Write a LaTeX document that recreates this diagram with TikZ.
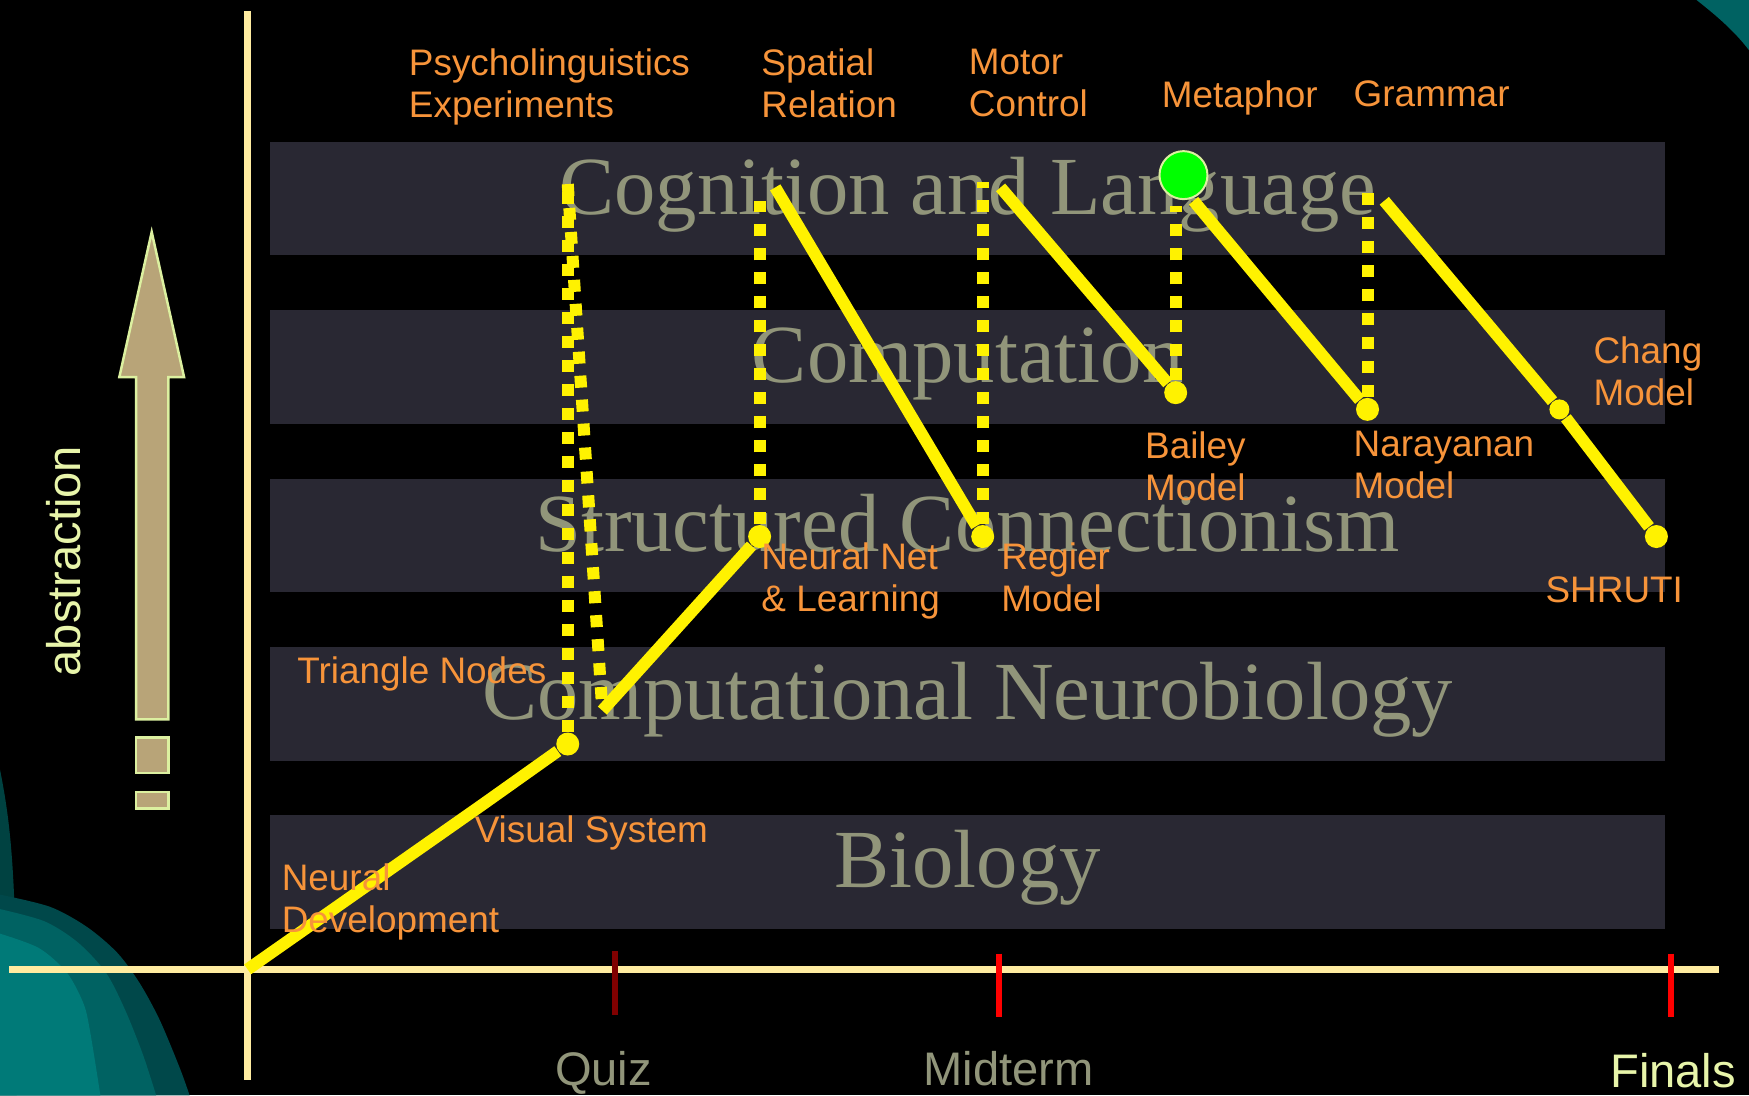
\documentclass[tikz,border=0pt]{standalone}
\usepackage{fontspec}
\setmainfont{Liberation Serif}
\newfontfamily\lblfont{Liberation Sans}
\definecolor{bandgray}{RGB}{41,40,51}
\definecolor{sage}{RGB}{145,149,122}
\definecolor{lblorange}{RGB}{247,148,58}
\definecolor{cream}{RGB}{255,236,160}
\definecolor{paleyel}{RGB}{232,245,170}
\definecolor{tan}{RGB}{184,164,120}
\definecolor{tanedge}{RGB}{220,240,160}
\definecolor{tealdark}{RGB}{0,72,74}
\definecolor{tealmid}{RGB}{0,98,98}
\definecolor{teallight}{RGB}{0,122,120}
\definecolor{darkred}{RGB}{128,0,0}

\begin{document}
\begin{tikzpicture}[x=0.11154mm, y=-0.11154mm,
  band/.style={fill=bandgray, minimum width=139.5mm, minimum height=11.38mm,
    inner sep=0, text=sage, font=\fontsize{23.5}{26}\selectfont,
    text height=14pt, text depth=5.1pt},
  lbl/.style={anchor=north west, inner sep=0, align=left, text=lblorange,
    font=\lblfont\fontsize{10.5}{12}\selectfont},
  axlbl/.style={anchor=base, inner sep=0, font=\lblfont\fontsize{13.4}{15}\selectfont},
  axis/.style={cream, line width=0.75mm},
  tick/.style={line width=0.6mm},
  dot/.style={circle, fill=yellow, inner sep=0, minimum size=2.3mm},
  link/.style={yellow, line width=1.2mm},
  hop/.style={yellow, line width=1.2mm, dash pattern=on 1.2mm off 1.2mm}]

  \fill[black] (0,0) rectangle (1568,982);
  \useasboundingbox (0,0) rectangle (1568,982);

  % teal corners
  \fill[teallight, opacity=0.55] (0,690) .. controls (12,750) and (15,800) .. (15,982) -- (0,982) -- cycle;
  \fill[tealdark] plot[smooth] coordinates {(0,802) (45,813) (78,831) (105,854)
    (125,881) (143,914) (161,957) (170,982)} -- (0,982) -- cycle;
  \fill[tealmid] plot[smooth] coordinates {(0,815) (40,826) (70,845) (95,872)
    (112,905) (128,945) (140,982)} -- (0,982) -- cycle;
  \fill[teallight] plot[smooth] coordinates {(0,837) (35,850) (60,872) (75,900)
    (81,926) (90,982)} -- (0,982) -- cycle;
  \fill[tealmid] (1521,0) .. controls (1540,15) and (1555,28) .. (1568,45) -- (1568,0) -- cycle;

  % levels
  \node[band] (cog) at (867.5,178) {Cognition and Language};
  \node[band] (comp) at (867.5,329) {Computation};
  \node[band] (sc) at (867.5,480) {Structured Connectionism};
  \node[band] (cn) at (867.5,631) {Computational Neurobiology};
  \node[band] (bio) at (867.5,782) {Biology};

  % axes
  \coordinate (o) at (222,869);
  \coordinate (xl) at (8,869);
  \coordinate (xr) at (1541,869);
  \coordinate (yt) at (222,10);
  \coordinate (yb) at (222,968);
  \draw[axis] (xl) -- (xr);
  \draw[axis] (yt) -- (yb);

  \draw[tick, darkred] (551,853) -- (551,910);
  \draw[tick, red] (896,855) -- (896,912);
  \draw[tick, red] (1498,855) -- (1498,912);
  \node[axlbl, text=sage] (quiz) at (541,973) {Quiz};
  \node[axlbl, text=sage] (mid) at (904,973) {Midterm};
  \node[axlbl, text=paleyel] (fin) at (1500,975) {Finals};

  % abstraction arrow
  \draw[fill=tan, draw=tanedge, line width=0.25mm] (136,208) -- (165,338) -- (151,338)
    -- (151,645) -- (122,645) -- (122,338) -- (107,338) -- cycle;
  \draw[fill=tan, draw=tanedge, line width=0.25mm] (122,661) rectangle (151,693);
  \draw[fill=tan, draw=tanedge, line width=0.25mm] (122,710) rectangle (151,725);
  \node[rotate=90, inner sep=0, text=paleyel, font=\lblfont\fontsize{13.4}{15}\selectfont]
    (abs) at (57,503) {abstraction};

  % path through the levels
  \coordinate (vis) at (433,721);
  \node[dot] (tri) at (509,667) {};
  \coordinate (psy) at (509,165);
  \coordinate (psyend) at (540,637);
  \node[dot] (nnet) at (681,481) {};
  \coordinate (spa) at (681,180);
  \coordinate (spa2) at (695,168);
  \node[dot] (reg) at (881,481) {};
  \coordinate (mot) at (881,163);
  \coordinate (mot2) at (897,168);
  \node[dot] (bai) at (1054,352) {};
  \coordinate (met) at (1054,185);
  \coordinate (met2) at (1070,180);
  \node[dot] (nar) at (1226,367) {};
  \coordinate (gram) at (1226,168);
  \coordinate (gram2) at (1241,180);
  \node[dot, minimum size=2mm] (chang) at (1398,367) {};
  \node[dot] (shruti) at (1485,481) {};

  \draw[link] (o) -- (vis) -- (tri);
  \draw[hop] (tri) -- (psy);
  \draw[hop] (psy) -- (psyend);
  \draw[link] (psyend) -- (nnet);
  \draw[hop] (nnet) -- (spa);
  \draw[link] (spa2) -- (reg);
  \draw[hop] (reg) -- (mot);
  \draw[link] (mot2) -- (bai);
  \draw[hop] (bai) -- (met);
  \draw[link] (met2) -- (nar);
  \draw[hop] (nar) -- (gram);
  \draw[link] (gram2) -- (chang) -- (shruti);
  \node[circle, fill=green, draw=tanedge, line width=0.2mm, inner sep=0,
    minimum size=4.8mm] (metdot) at (1061,157) {};

  % labels
  \node[lbl] (psylbl) at (366,43) {Psycholinguistics\\Experiments};
  \node[lbl] (spalbl) at (682,43) {Spatial\\Relation};
  \node[lbl] (motlbl) at (868,43) {Motor\\Control};
  \node[lbl] (metlbl) at (1041,72) {Metaphor};
  \node[lbl] (gramlbl) at (1213,72) {Grammar};
  \node[lbl] (changlbl) at (1428,301) {Chang\\Model};
  \node[lbl] (bailbl) at (1026,386) {Bailey\\Model};
  \node[lbl] (narlbl) at (1213,386) {Narayanan\\Model};
  \node[lbl] (nnetlbl) at (682,486) {Neural Net\\\& Learning};
  \node[lbl] (reglbl) at (897,486) {Regier\\Model};
  \node[lbl] (shrutilbl) at (1385,516) {SHRUTI};
  \node[lbl] (trilbl) at (266,588) {Triangle Nodes};
  \node[lbl] (vislbl) at (425,731) {Visual System};
  \node[lbl] (ndlbl) at (252,774) {Neural\\Development};
\end{tikzpicture}
\end{document}
